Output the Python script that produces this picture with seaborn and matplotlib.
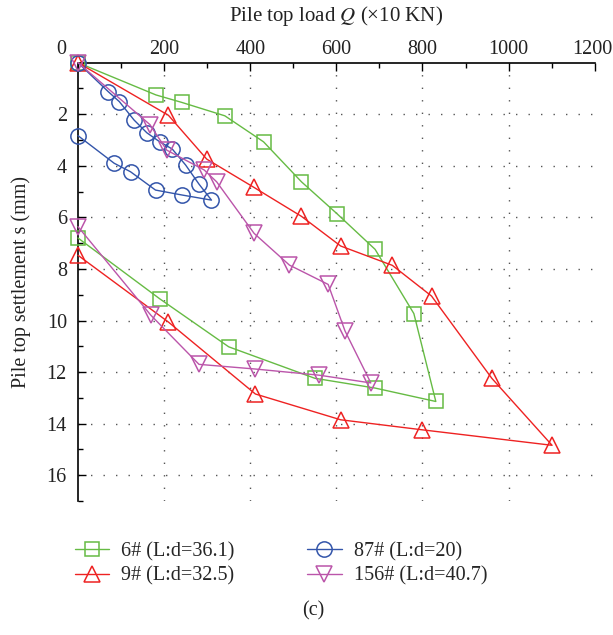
import matplotlib
matplotlib.use("Agg")
import matplotlib.pyplot as plt
import matplotlib.transforms as mtransforms
import seaborn as sns
import pandas as pd
from matplotlib.ticker import MultipleLocator
from matplotlib.lines import Line2D

# Load-settlement loops: loading branch followed by unloading branch
load_6 = [0, 181, 241, 341, 431, 519, 601, 690, 780, 831, 690, 550, 350, 190, 0]
settle_6 = [0, 1.25, 1.54, 2.06, 3.07, 4.62, 5.85, 7.24, 9.73, 13.14, 12.62, 12.24, 11.02, 9.16, 6.80]

load_9 = [0, 210, 299, 409, 519, 610, 730, 821, 961, 1101, 800, 610, 412, 210, 0]
settle_9 = [0, 2.04, 3.74, 4.84, 5.96, 7.11, 7.86, 9.05, 12.24, 14.84, 14.24, 13.85, 12.85, 10.06, 7.47]

load_87 = [0, 70, 96, 130, 160, 190, 219, 250, 281, 310, 241, 180, 122, 84, 0]
settle_87 = [0, 1.12, 1.51, 2.22, 2.72, 3.07, 3.35, 3.97, 4.71, 5.33, 5.13, 4.94, 4.23, 3.90, 2.83]

load_156 = [0, 167, 206, 293, 322, 409, 491, 581, 620, 680, 560, 411, 281, 169, 0]
settle_156 = [0, 2.40, 3.39, 4.16, 4.62, 6.62, 7.85, 8.60, 10.40, 12.42, 12.12, 11.88, 11.70, 9.79, 6.36]

labels = ["6# (L:d=36.1)", "9# (L:d=32.5)", "87# (L:d=20)", "156# (L:d=40.7)"]
colors = ["#66bb44", "#ee2222", "#3355aa", "#bb55aa"]
markers = ["s", "^", "o", "v"]
sizes = [9.5, 12, 11, 12]

x_ticks = [0, 200, 400, 600, 800, 1000, 1200]
y_ticks = [2, 4, 6, 8, 10, 12, 14, 16]

sns.set_theme(style="white")
plt.rcParams["font.family"] = ["Liberation Serif", "DejaVu Serif"]
plt.rcParams["mathtext.fontset"] = "stix"

fig = plt.figure(figsize=(6.13, 6.35), dpi=100)
ax = fig.add_axes([78 / 613, 1 - 501 / 635, (594.7 - 78) / 613, (501 - 62.7) / 635])

series = [(load_6, settle_6), (load_9, settle_9), (load_87, settle_87), (load_156, settle_156)]
handles = []
for (q, s), lab, c, m, ms in zip(series, labels, colors, markers, sizes):
    df = pd.DataFrame({"Q": q, "s": s})
    sns.lineplot(data=df, x="Q", y="s", sort=False, estimator=None, ax=ax,
                 color=c, linewidth=1.0, marker=m, markersize=ms,
                 markerfacecolor="none", markeredgecolor=c, markeredgewidth=1.1,
                 clip_on=False, legend=False, zorder=3)
    handles.append(Line2D([], [], color=c, linewidth=1.0, marker=m, markersize=ms,
                          markerfacecolor="none", markeredgecolor=c, markeredgewidth=1.1))

ax.set_xlim(0, 1200)
ax.set_ylim(17, 0)
ax.xaxis.tick_top()
ax.xaxis.set_label_position("top")
ax.set_xticks(x_ticks)
ax.xaxis.set_minor_locator(MultipleLocator(100))
ax.set_yticks(y_ticks)
ax.yaxis.set_minor_locator(MultipleLocator(1))

ax.tick_params(axis="x", which="major", direction="in", length=6, width=1.0,
               labelsize=14.5, color="black", labelcolor="#222222", pad=3)
ax.tick_params(axis="y", which="major", direction="in", length=6, width=1.0,
               labelsize=14.5, color="black", labelcolor="#222222", pad=8)
ax.tick_params(axis="both", which="minor", direction="in", length=3.5, width=1.0, color="black")
ax.tick_params(axis="x", which="both", top=True, bottom=False)
ax.tick_params(axis="y", which="both", left=True, right=False)

# the corner "0" sits left of the vertical axis; "1200" is nudged inside the figure
shift_left = mtransforms.ScaledTranslation(-17 / 100, 0, fig.dpi_scale_trans)
shift_end = mtransforms.ScaledTranslation(-2 / 100, 0, fig.dpi_scale_trans)
for lbl in ax.get_xticklabels():
    if lbl.get_text() == "0":
        lbl.set_transform(lbl.get_transform() + shift_left)
    elif lbl.get_text() == "1200":
        lbl.set_transform(lbl.get_transform() + shift_end)

for side in ["right", "bottom"]:
    ax.spines[side].set_visible(False)
for side in ["top", "left"]:
    ax.spines[side].set_color("black")
    ax.spines[side].set_linewidth(1.2)

ax.grid(True, which="major", color="#555555", linestyle=(0, (1, 8)), linewidth=1.0)
xgl = ax.get_xgridlines()
xgl[0].set_visible(False)
xgl[-1].set_visible(False)

ax.set_xlabel(r"Pile top load $Q$ (×10 KN)", fontsize=15, labelpad=13, color="#222222")
ax.set_ylabel("Pile top settlement s (mm)", fontsize=14.5, labelpad=11, color="#222222")

fig.legend(handles, labels, loc="upper left", bbox_to_anchor=(57 / 613, 1 - 524 / 635),
           ncol=2, frameon=False, fontsize=14.5, handlelength=1.7, handletextpad=0.6,
           columnspacing=3.6, labelspacing=0.25)
fig.text(313 / 613, 1 - 611 / 635, "(c)", ha="center", va="center", fontsize=14.5, color="#222222")

fig.savefig("out.png", dpi=100)
